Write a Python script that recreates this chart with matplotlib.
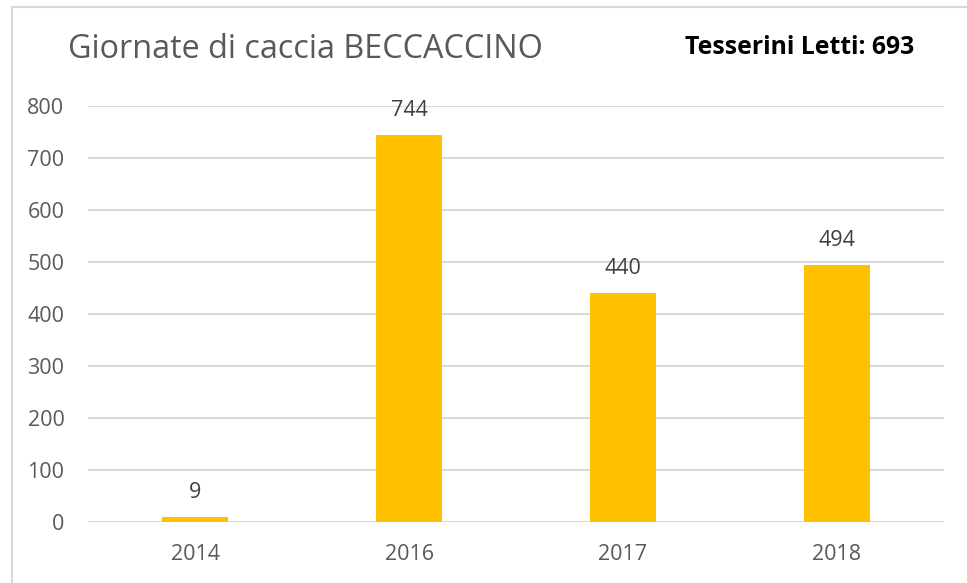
import matplotlib
matplotlib.use("Agg")
import matplotlib.pyplot as plt
from matplotlib.lines import Line2D

categories = ["2014", "2016", "2017", "2018"]
values = [9, 744, 440, 494]
yticks = [0, 100, 200, 300, 400, 500, 600, 700, 800]
title = "Giornate di caccia BECCACCINO"
subtitle = "Tesserini Letti: 693"

plt.rcParams['font.family'] = ['Open Sans', 'DejaVu Sans']
gray = "#595959"

fig = plt.figure(figsize=(9.67, 5.83), dpi=100)
ax = fig.add_axes([88/967, 1-522/583, (944-88)/967, (522-106)/583])

x = range(len(categories))
bars = ax.bar(x, values, width=0.313, color="#FFC000", zorder=3)
ax.set_xlim(-0.5, len(categories) - 0.5)
ax.set_ylim(0, 800)
ax.set_yticks(yticks)
ax.set_xticks(list(x))
ax.set_xticklabels(categories)
ax.grid(axis='y', color="#d9d9d9", linewidth=1.5, zorder=0)
for s in ax.spines.values():
    s.set_visible(False)
ax.tick_params(axis='both', length=0, labelsize=15.5, labelcolor=gray)
ax.tick_params(axis='y', pad=17)
ax.tick_params(axis='x', pad=16)

for b, v in zip(bars, values):
    ax.annotate(str(v), (b.get_x() + b.get_width()/2, v), xytext=(0, 18),
                textcoords='offset points', ha='center', va='center',
                fontsize=15.5, color="#404040")

fig.text(68/967, 1-50/583, title, fontsize=23.3, color=gray, ha='left', va='center')
fig.text(914/967, 1-48/583, subtitle, fontsize=17.8, color='black', fontweight='bold',
         ha='right', va='center')

# chart frame (left and top edges visible)
fig.add_artist(Line2D([12/967, 12/967], [0, 1-7/583], transform=fig.transFigure,
                      color="#d9d9d9", linewidth=1.5))
fig.add_artist(Line2D([12/967, 1], [1-7/583, 1-7/583], transform=fig.transFigure,
                      color="#d9d9d9", linewidth=1.5))

fig.savefig("out.png", dpi=100)
